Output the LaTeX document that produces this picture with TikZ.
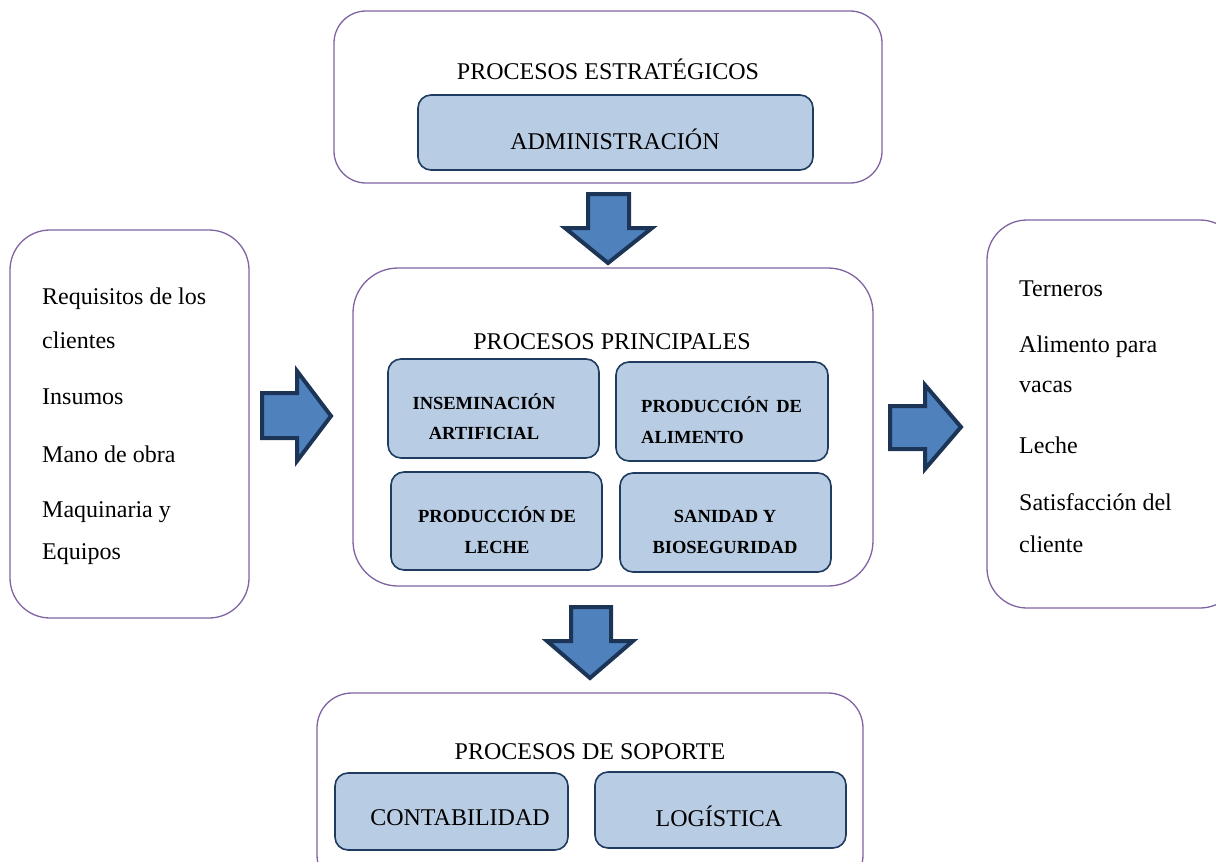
\documentclass[tikz,border=0pt]{standalone}
\usepackage{fontspec}
\setmainfont{Liberation Serif}
\definecolor{purpleb}{HTML}{8064A2}
\definecolor{boxfill}{HTML}{B8CCE4}
\definecolor{boxline}{HTML}{1F3B5F}
\definecolor{arrfill}{HTML}{4F81BD}
\definecolor{arrline}{HTML}{1C3557}
\tikzset{
  outer/.style={draw=purpleb,line width=1.3pt,rounded corners=#1,fill=white},
  inner/.style={draw=boxline,line width=1.6pt,rounded corners=13pt,fill=boxfill},
  blockarrow/.style={draw=arrline,line width=4pt,fill=arrfill,line join=miter},
  big/.style={font=\fontsize{24}{28}\selectfont,inner sep=0pt},
  txt/.style={font=\fontsize{24}{28}\selectfont,inner sep=0pt,anchor=west},
  bold/.style={font=\fontsize{18.5}{22}\selectfont\bfseries,inner sep=0pt},
}
\begin{document}
\begin{tikzpicture}[x=1pt,y=-1pt]
\useasboundingbox (0,0) rectangle (1216,862);
% outer boxes
\draw[outer=32pt] (334,11) rectangle (882,183);
\draw[outer=40pt] (10,230) rectangle (249,618);
\draw[outer=45pt] (353,268) rectangle (873,586);
\draw[outer=40pt] (987,220) rectangle (1240,608);
\draw[outer=35pt] (317,693) rectangle (863,890);
% strategic
\node[big] (tstr) at (608,69) {PROCESOS ESTRATÉGICOS};
\draw[inner] (418,95) rectangle (813,170);
\node[big] (adm) at (615,139) {ADMINISTRACIÓN};
% principal
\node[big] (tprin) at (612,342) {PROCESOS PRINCIPALES};
\draw[inner] (388,359) rectangle (599,458);
\draw[inner] (616,362) rectangle (828,461);
\draw[inner] (391,472) rectangle (602,570);
\draw[inner] (620,473) rectangle (831,572);
\node[bold] (ins1) at (484,402) {INSEMINACIÓN};
\node[bold] (ins2) at (484,433) {ARTIFICIAL};
\node[bold,anchor=west] (pa1) at (641,405) {PRODUCCIÓN \,DE};
\node[bold,anchor=west] (pa2) at (641,437) {ALIMENTO};
\node[bold] (pl1) at (497,515) {PRODUCCIÓN DE};
\node[bold] (pl2) at (497,547) {LECHE};
\node[bold] (sb1) at (725,516) {SANIDAD Y};
\node[bold] (sb2) at (725,547) {BIOSEGURIDAD};
% support
\node[big] (tsop) at (590,752) {PROCESOS DE SOPORTE};
\draw[inner] (335,773) rectangle (568,850);
\draw[inner] (595,772) rectangle (846,848);
\node[big] (cont) at (460,818) {CONTABILIDAD};
\node[big] (log) at (719,816) {LOGÍSTICA};
% left list
\node[txt] (l1) at (42,299) {Requisitos de los};
\node[txt] (l2) at (42,340) {clientes};
\node[txt] (l3) at (42,397) {Insumos};
\node[txt] (l4) at (42,454) {Mano de obra};
\node[txt] (l5) at (42,512) {Maquinaria y};
\node[txt] (l6) at (42,554) {Equipos};
% right list
\node[txt] (r1) at (1019,289) {Terneros};
\node[txt] (r2) at (1019,347) {Alimento para};
\node[txt] (r3) at (1019,387) {vacas};
\node[txt] (r4) at (1019,445) {Leche};
\node[txt] (r5) at (1019,502) {Satisfacción del};
\node[txt] (r6) at (1019,544) {cliente};
% block arrows
\draw[blockarrow] (588,194) -- (629,194) -- (629,228) -- (652,228) -- (608,263) -- (565,228) -- (588,228) -- cycle;
\draw[blockarrow] (262,393) -- (297,393) -- (297,371) -- (331,416) -- (297,461) -- (297,438) -- (262,438) -- cycle;
\draw[blockarrow] (890,406) -- (925,406) -- (925,385) -- (961,427) -- (925,469) -- (925,449) -- (890,449) -- cycle;
\draw[blockarrow] (571,607) -- (611,607) -- (611,641) -- (633,641) -- (590,678) -- (547,641) -- (571,641) -- cycle;
\end{tikzpicture}
\end{document}
